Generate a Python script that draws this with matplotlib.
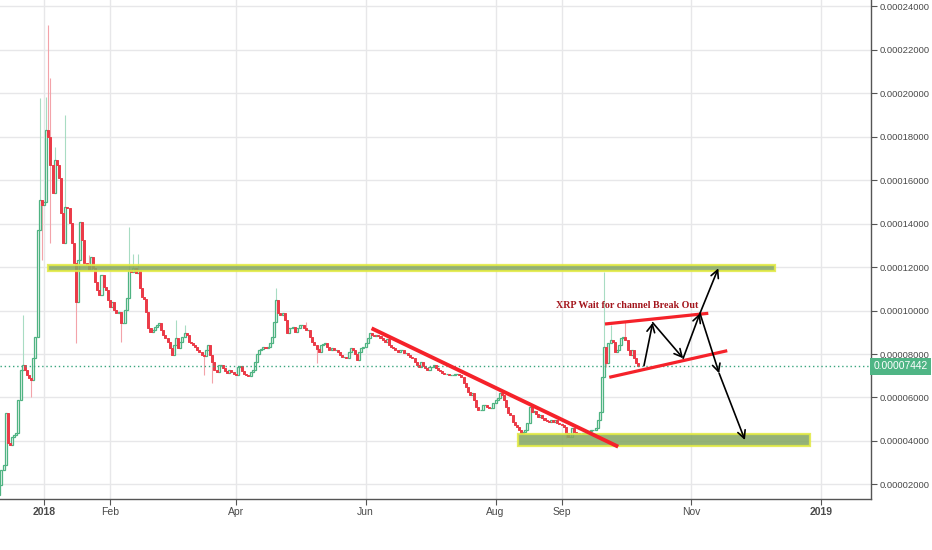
import numpy as np
import pandas as pd
import matplotlib
matplotlib.use("Agg")
import matplotlib.pyplot as plt
import matplotlib.dates as mdates
import matplotlib.transforms as mtransforms
from matplotlib.patches import Rectangle

# ---- daily XRP/BTC closes (satoshi), starting 2017-12-11 ----
start_date = "2017-12-11"
first_open = 1500
closes = [
    1970, 2664, 2894, 5286, 3906, 3814, 4182, 4274, 4366, 5884,
    7264, 7494, 7264, 7034, 6896, 6804, 7816, 8782, 13704, 15084,
    14854, 15000, 18304, 17982, 16694, 15406, 16924, 16694, 16096, 14486,
    13106, 14762, 14716, 14026, 13106, 12186, 10392, 12324, 14072, 13244,
    12186, 12094, 11864, 12462, 11956, 11312, 10944, 10714, 11634, 11082,
    10944, 10484, 10162, 10392, 10024, 9886, 9932, 9426, 9426, 10024,
    10576, 11864, 11772, 11956, 11726, 11864, 11036, 10622, 10530, 9932,
    9196, 9012, 9104, 9242, 9334, 9426, 9104, 8874, 8736, 8552,
    8276, 7954, 8414, 8736, 8276, 8552, 8782, 8966, 8874, 8552,
    8506, 8414, 8322, 8184, 8092, 7954, 7908, 8184, 8414, 7954,
    7632, 7264, 7172, 7494, 7494, 7356, 7218, 7126, 7264, 7172,
    7080, 7034, 7402, 7448, 7218, 7080, 7034, 6988, 7172, 7264,
    7632, 8000, 8184, 8230, 8322, 8276, 8322, 8506, 8782, 9472,
    10484, 9886, 9794, 9886, 9564, 8966, 9196, 9196, 9242, 9012,
    9196, 9334, 9334, 9196, 9104, 9104, 8782, 8552, 8414, 8230,
    8092, 8414, 8460, 8506, 8322, 8184, 8276, 8184, 8184, 8092,
    7954, 7862, 7862, 7816, 8092, 8276, 8184, 8000, 7724, 8092,
    8276, 8322, 8506, 8736, 8966, 8874, 8828, 8874, 8828, 8736,
    8644, 8552, 8690, 8414, 8322, 8276, 8184, 8092, 8184, 8184,
    8046, 8046, 7954, 7862, 7816, 7632, 7494, 7402, 7632, 7448,
    7356, 7264, 7402, 7402, 7494, 7356, 7264, 7218, 7126, 7080,
    7080, 7034, 7034, 7034, 7080, 7080, 7034, 6942, 6666, 6482,
    6252, 6114, 6206, 5884, 5562, 5424, 5424, 5654, 5654, 5562,
    5516, 5516, 5746, 5884, 5976, 6206, 6114, 5884, 5562, 5286,
    5194, 4872, 4734, 4642, 4504, 4366, 4412, 4504, 4826, 5562,
    5332, 5378, 5240, 5102, 5194, 5056, 4964, 4918, 4872, 4964,
    4872, 4964, 4826, 4780, 4734, 4642, 4366, 4182, 4182, 4596,
    4412, 4366, 4320, 4320, 4366, 4366, 4412, 4458, 4504, 4504,
    4596, 4964, 5332, 6942, 8322, 7586, 8506, 8644, 8552, 8092,
    8184, 8414, 8736, 8782, 8644, 8184, 7954, 8184, 7816, 7586,
    7442,
]

# long wicks (satoshi)
wick_hi_dates = ["2017-12-22", "2017-12-30", "2018-01-02", "2018-01-03", "2018-01-04",
                 "2018-01-06", "2018-01-11", "2018-01-22", "2018-02-10", "2018-02-12",
                 "2018-02-14", "2018-03-04", "2018-03-08", "2018-04-20", "2018-05-04",
                 "2018-09-21", "2018-09-24", "2018-10-01"]
wick_hi_vals = [9794, 19776, 19822, 23134, 20696,
                17522, 18994, 12554, 13842, 12600,
                12600, 9564, 9334, 11036, 9472,
                11772, 9334, 9472]
wick_lo_dates = ["2017-12-26", "2017-12-31", "2018-01-04", "2018-01-16", "2018-02-06",
                 "2018-03-17", "2018-03-21", "2018-05-09", "2018-08-13", "2018-09-03",
                 "2018-09-22"]
wick_lo_vals = [6022, 12324, 13106, 8506, 8552,
                7034, 6666, 7586, 4320, 4136,
                7402]

last_price = 7442

# support / resistance zones (satoshi) and their day range from 2018-01-01
top_zone = (11818, 12094, 1.7, 343.2)
bottom_zone = (3768, 4320, 222.5, 359.6)

# trend line and channel (day offset from 2018-01-01, satoshi)
trend_line = [(153.8, 9182), (269.6, 3736)]
channel_upper = [(263.4, 9380), (311.9, 9872)]
channel_lower = [(265.4, 6928), (320.8, 8152)]

# projected path arrows
arrow_path = [
    ((281.7, 7462), (285.8, 9440)),
    ((285.8, 9440), (300.1, 7802)),
    ((300.1, 7802), (308.0, 9872)),
    ((308.0, 9872), (316.6, 11942)),
    ((308.0, 9872), (317.0, 7112)),
    ((317.0, 7112), (329.1, 4044)),
]
note_text = "XRP Wait for channel Break Out"
note_pos = (273.9, 10254)

tick_dates = ["2018-01-01", "2018-02-01", "2018-04-01", "2018-06-01",
              "2018-08-01", "2018-09-01", "2018-11-01", "2019-01-01"]
tick_labels = ["2018", "Feb", "Apr", "Jun", "Aug", "Sep", "Nov", "2019"]
y_ticks = [2000, 4000, 6000, 8000, 10000, 12000, 14000, 16000, 18000, 20000, 22000, 24000]

SAT = 1e-8
GREEN = "#4fb382"
RED = "#eb3b48"

base = mdates.date2num(pd.Timestamp("2018-01-01"))


def dx(day):
    return base + day


dates = pd.date_range(start_date, periods=len(closes), freq="D")
x = mdates.date2num(dates.to_pydatetime())
c = np.array(closes) * SAT
o = np.r_[first_open * SAT, c[:-1]]
hi = np.maximum(o, c)
lo = np.minimum(o, c)
body_lo = lo.copy()
body_h = np.maximum(hi - lo, 4 * SAT)
for d, v in zip(wick_hi_dates, wick_hi_vals):
    i = dates.get_loc(pd.Timestamp(d))
    hi[i] = max(hi[i], v * SAT)
for d, v in zip(wick_lo_dates, wick_lo_vals):
    i = dates.get_loc(pd.Timestamp(d))
    lo[i] = min(lo[i], v * SAT)
up = c >= o

fig = plt.figure(figsize=(9.32, 5.5), dpi=100)
ax = fig.add_axes([0, 51 / 550, 871 / 932, 499 / 550])

# grid
for td in tick_dates:
    ax.axvline(mdates.date2num(pd.Timestamp(td)), color="#e7e7e9", lw=1, zorder=0)
for yt in y_ticks:
    ax.axhline(yt * SAT, color="#e7e7e9", lw=1, zorder=0)

# candles
ax.vlines(x[up], lo[up], hi[up], color="#a8dcc3", lw=0.8, zorder=1)
ax.vlines(x[~up], lo[~up], hi[~up], color="#f3a3a9", lw=0.8, zorder=1)
ax.bar(x[up], body_h[up], bottom=body_lo[up], width=0.95, color="#f4fbf7",
       edgecolor=GREEN, linewidth=0.9, zorder=2)
ax.bar(x[~up], body_h[~up], bottom=body_lo[~up], width=0.95, color=RED,
       edgecolor=RED, linewidth=0.7, zorder=2)

# last price line
ax.axhline(last_price * SAT, color="#3aa57f", lw=1, ls=(0, (1, 2)), zorder=3)

# zones
for lo_v, hi_v, d0, d1 in (top_zone, bottom_zone):
    ax.add_patch(Rectangle((dx(d0), lo_v * SAT), d1 - d0, (hi_v - lo_v) * SAT,
                           facecolor="#86a865", alpha=0.88, edgecolor="#e2ea45",
                           lw=1.6, zorder=4))

# trend line and channel
for line, lw in ((trend_line, 2.8), (channel_upper, 2.3), (channel_lower, 2.3)):
    ax.plot([dx(p[0]) for p in line], [p[1] * SAT for p in line],
            color="#f5222a", lw=lw, solid_capstyle="butt", zorder=5)

# arrows
for (a, b) in arrow_path:
    ax.annotate("", xy=(dx(b[0]), b[1] * SAT), xytext=(dx(a[0]), a[1] * SAT),
                arrowprops=dict(arrowstyle="->,head_length=0.55,head_width=0.28",
                                color="black", lw=1.2, shrinkA=0, shrinkB=0),
                zorder=6)

ax.text(dx(note_pos[0]), note_pos[1] * SAT, note_text, ha="center", va="center",
        fontsize=7.2, fontweight="bold", color="#a3151c",
        family="Liberation Serif", zorder=6)

# axes
ax.set_xlim(dx(-20.66), dx(388.3))
ax.set_ylim(1330 * SAT, 24284 * SAT)
ax.set_xticks([mdates.date2num(pd.Timestamp(t)) for t in tick_dates])
ax.set_xticklabels(tick_labels)
for lab in ax.get_xticklabels():
    if lab.get_text().isdigit():
        lab.set_fontweight("bold")
ax.set_yticks([v * SAT for v in y_ticks])
ax.set_yticklabels(["%.8f" % (v * SAT) for v in y_ticks])
ax.yaxis.tick_right()
ax.tick_params(axis="y", direction="out", length=4, color="#555555", labelsize=6.8,
               labelcolor="#4a4a4a", pad=2.5)
ax.tick_params(axis="x", direction="out", length=4, color="#555555", labelsize=7.5,
               labelcolor="#4a4a4a", pad=2)
for lab in ax.get_xticklabels() + ax.get_yticklabels():
    lab.set_family("Liberation Sans")
for s in ("left", "top"):
    ax.spines[s].set_visible(False)
for s in ("right", "bottom"):
    ax.spines[s].set_color("#555555")
    ax.spines[s].set_linewidth(1)

# last price tag
trans = mtransforms.blended_transform_factory(ax.transAxes, ax.transData)
ax.text(1.003, last_price * SAT, "%.8f" % (last_price * SAT), transform=trans,
        ha="left", va="center", fontsize=7.4, color="white", family="Liberation Sans",
        bbox=dict(boxstyle="square,pad=0.35", fc="#4fb585", ec="none"),
        clip_on=False, zorder=7)

fig.savefig("out.png", dpi=100)
